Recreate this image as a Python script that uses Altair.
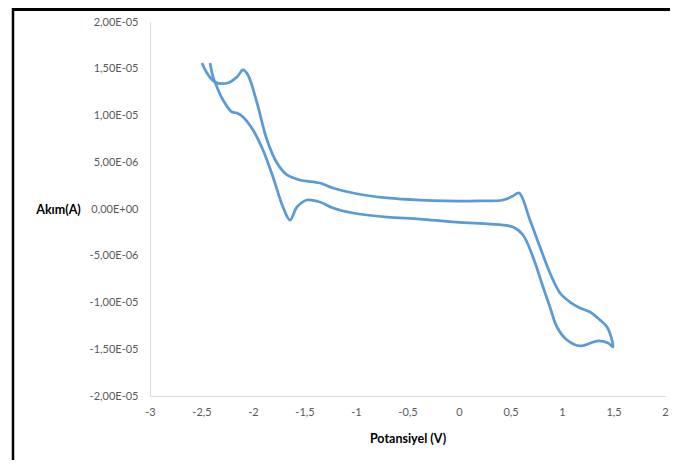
import altair as alt
import pandas as pd

# Cyclic voltammogram (potential in V, current in A)
POTENTIAL_V = [
    -2.495, -2.447, -2.369, -2.243, -2.155, -2.097, -2.049, -1.961, -1.864, -1.767,
    -1.670, -1.544, -1.350, -1.223, -1.029, -0.699, -0.379, 0.204, 0.427, 0.524,
    0.583, 0.689, 0.786, 0.883, 0.981, 1.078, 1.175, 1.272, 1.369, 1.437,
    1.485, 1.495,
    1.447, 1.340, 1.175, 1.049, 0.951, 0.883, 0.816, 0.718, 0.621, 0.524,
    0.272, -0.058, -0.379, -0.699, -1.029, -1.223, -1.350, -1.476, -1.573, -1.641,
    -1.709, -1.806, -1.903, -2.000, -2.097, -2.155, -2.204, -2.291, -2.350, -2.388,
    -2.417,
]
CURRENT_A = [
    15.61e-6, 14.55e-6, 13.58e-6, 13.48e-6, 14.12e-6, 14.87e-6, 14.33e-6, 11.34e-6, 7.38e-6, 4.92e-6,
    3.64e-6, 3.10e-6, 2.78e-6, 2.25e-6, 1.71e-6, 1.18e-6, 0.96e-6, 0.86e-6, 0.96e-6, 1.39e-6,
    1.71e-6, -1.18e-6, -4.06e-6, -6.84e-6, -8.98e-6, -9.95e-6, -10.59e-6, -11.02e-6, -11.87e-6, -12.62e-6,
    -14.01e-6, -14.76e-6,
    -14.33e-6, -14.12e-6, -14.65e-6, -14.01e-6, -12.62e-6, -10.48e-6, -8.34e-6, -5.13e-6, -2.78e-6, -1.93e-6,
    -1.60e-6, -1.39e-6, -1.07e-6, -0.86e-6, -0.43e-6, 0.11e-6, 0.75e-6, 0.96e-6, 0.21e-6, -1.18e-6,
    0.21e-6, 3.42e-6, 6.31e-6, 8.45e-6, 9.84e-6, 10.27e-6, 10.37e-6, 11.66e-6, 13.05e-6, 14.12e-6,
    15.61e-6,
]

X_TICKS = [-3, -2.5, -2, -1.5, -1, -0.5, 0, 0.5, 1, 1.5, 2]
X_TICK_LABELS = ["-3", "-2,5", "-2", "-1,5", "-1", "-0,5", "0", "0,5", "1", "1,5", "2"]
Y_TICKS = [-2e-5, -1.5e-5, -1e-5, -5e-6, 0, 5e-6, 1e-5, 1.5e-5, 2e-5]
Y_TICK_LABELS = ["-2,00E-05", "-1,50E-05", "-1,00E-05", "-5,00E-06", "0,00E+00",
                 "5,00E-06", "1,00E-05", "1,50E-05", "2,00E-05"]

X_TITLE = "Potansiyel (V)"
Y_TITLE = "Akım(A)"

df = pd.DataFrame({"idx": list(range(len(POTENTIAL_V))), "V": POTENTIAL_V, "I": CURRENT_A})


def label_expr(labels, start, step):
    arr = "[" + ",".join("'" + s + "'" for s in labels) + "]"
    return f"{arr}[round((datum.value - ({start})) / {step})]"


W, H = 515, 374
LABEL_FONT = "Lato"
AXIS_GREY = "#D9D9D9"
LABEL_GREY = "#595959"

line = alt.Chart(df).mark_line(
    color="#5B9BD5", strokeWidth=2.75, interpolate="catmull-rom"
).encode(
    x=alt.X(
        "V:Q",
        scale=alt.Scale(domain=[X_TICKS[0], X_TICKS[-1]], nice=False, zero=False),
        axis=alt.Axis(
            values=X_TICKS,
            labelExpr=label_expr(X_TICK_LABELS, X_TICKS[0], 0.5),
            title=X_TITLE, grid=False, ticks=False, domainColor=AXIS_GREY, domainWidth=1,
            labelColor=LABEL_GREY, labelFont=LABEL_FONT, labelFontSize=11, labelPadding=10,
            labelFlush=False,
            titleFont=LABEL_FONT, titleFontSize=12.5, titleFontWeight="bold", titleColor="#000000",
            titleY=42, titleBaseline="middle",
        ),
    ),
    y=alt.Y(
        "I:Q",
        scale=alt.Scale(domain=[Y_TICKS[0], Y_TICKS[-1]], nice=False, zero=False),
        axis=alt.Axis(
            values=Y_TICKS,
            labelExpr=label_expr(Y_TICK_LABELS, Y_TICKS[0], 5e-6),
            title=Y_TITLE, grid=False, ticks=False, domainColor=AXIS_GREY, domainWidth=1,
            labelColor=LABEL_GREY, labelFont=LABEL_FONT, labelFontSize=11, labelPadding=12,
            labelFlush=False,
            titleFont=LABEL_FONT, titleFontSize=12.5, titleFontWeight="bold", titleColor="#000000",
            titleAngle=0, titleX=-92, titleY=H / 2, titleAlign="center", titleBaseline="middle",
        ),
    ),
    order=alt.Order("idx:Q"),
)

one_row = alt.Data(values=[{"k": 0}])
top_border = alt.Chart(one_row).mark_rule(color="black", strokeWidth=3).encode(
    x=alt.value(-138), x2=alt.value(520), y=alt.value(-12.5)
)
left_border = alt.Chart(one_row).mark_rule(color="black", strokeWidth=2.5).encode(
    x=alt.value(-137), y=alt.value(-14), y2=alt.value(438)
)

chart = alt.layer(line, top_border, left_border).properties(
    width=W, height=H,
    autosize=alt.AutoSizeParams(type="none"),
    padding={"left": 142, "top": 14, "right": 5, "bottom": 64},
    background="white",
).configure_view(stroke=None)

chart.save("out.html", embed_options={"renderer": "svg", "actions": False})
